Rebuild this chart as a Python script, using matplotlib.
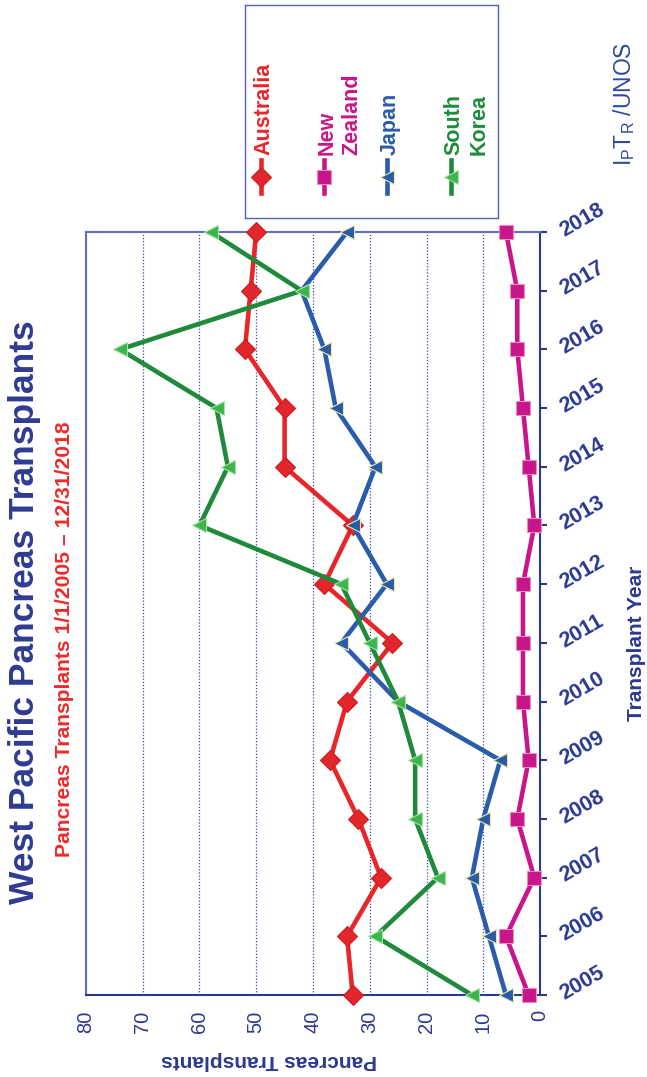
import matplotlib
matplotlib.use("Agg")
import matplotlib.pyplot as plt

plt.rcParams["font.family"] = ["Liberation Sans", "DejaVu Sans"]

years = list(range(2005, 2019))
australia = [33, 34, 28, 32, 37, 34, 26, 38, 33, 45, 45, 52, 51, 50]
new_zealand = [2, 6, 1, 4, 2, 3, 3, 3, 1, 2, 3, 4, 4, 6]
japan = [6, 9, 12, 10, 7, 25, 35, 27, 33, 29, 36, 38, 42, 34]
south_korea = [12, 29, 18, 22, 22, 25, 30, 35, 60, 55, 57, 74, 42, 58]

value_ticks = list(range(0, 81, 10))
legend_lines = [["Australia"], ["New", "Zealand"], ["Japan"], ["South", "Korea"]]

NAVY = "#2b3990"
series = [
    # values, line colour, marker, face, edge, text colour
    (australia, "#e8262a", "D", "#e3262b", "#c81e22", "#e8262a"),
    (new_zealand, "#c8168a", "s", "#c8168a", "#e88cc0", "#c8168a"),
    (japan, "#2a5caa", "<", "#2a5aa8", "#e8e8a0", "#2a5caa"),
    (south_korea, "#1f8a3c", "<", "#3cb54a", "#a8e0a8", "#1f8a3c"),
]

fig = plt.figure(figsize=(6.47, 10.77), dpi=100)
ax = fig.add_axes([86 / 647, 82 / 1077, 454 / 647, 763 / 1077])

for vals, lc, mk, mfc, mec, _ in series:
    ax.plot(vals, years, color=lc, lw=3.3, marker=mk, ms=10.5,
            mfc=mfc, mec=mec, mew=0.8, clip_on=False, zorder=3)

ax.set_xlim(80, 0)
ax.set_ylim(2005, 2018)

# value axis (bottom), labels turned on their side
ax.set_xticks(value_ticks)
ax.tick_params(axis="x", length=0, pad=11, labelrotation=90,
               labelsize=14.5, labelcolor=NAVY)
ax.grid(axis="x", color="#3a4aa8", linestyle=(0, (1, 1.5)), lw=0.9)

# year axis on the right, slanted labels
ax.yaxis.tick_right()
ax.set_yticks(years, labels=[str(y) for y in years], rotation=30,
              rotation_mode="anchor", ha="left", va="center",
              fontweight="bold")
ax.tick_params(axis="y", direction="out", length=5, width=1.5, color=NAVY,
               pad=10.5, labelsize=15.5, labelcolor=NAVY)

for side in ("left", "top"):
    ax.spines[side].set_color("#6070c0")
    ax.spines[side].set_linewidth(1.5)
for side in ("right", "bottom"):
    ax.spines[side].set_color(NAVY)
    ax.spines[side].set_linewidth(1.5)

ax.set_xlabel("Pancreas Transplants", rotation=180, fontsize=15,
              fontweight="bold", color=NAVY, va="center", ha="center")
ax.xaxis.set_label_coords(0.403, -0.0865)
ax.yaxis.set_label_position("right")
ax.set_ylabel("Transplant Year", rotation=90, fontsize=15,
              fontweight="bold", color=NAVY, va="center", ha="center")
ax.yaxis.set_label_coords(1.2115, 0.461)

# titles
fig.text(25 / 647, 1 - 612 / 1077, "West Pacific Pancreas Transplants",
         rotation=90, ha="center", va="center", fontsize=25.5,
         fontweight="bold", color="#2e3b91")
fig.text(64.5 / 647, 1 - 639 / 1077,
         "Pancreas Transplants 1/1/2005 \u2013 12/31/2018",
         rotation=90, ha="center", va="center", fontsize=15.2,
         fontweight="bold", color="#ee2a2a")
fig.text(624 / 647, 1 - 104 / 1077, r"$\mathregular{I_PT_R}$ /UNOS",
         rotation=90, ha="center", va="center", fontsize=16.5,
         color="#2d4a9c")

# legend box drawn in pixel-like coordinates
lax = fig.add_axes([245 / 647, 1 - 218 / 1077, 253 / 647, 213 / 1077])
lax.set_xlim(245, 498)
lax.set_ylim(218, 5)
lax.set_xticks([])
lax.set_yticks([])
for sp in lax.spines.values():
    sp.set_color("#5565b5")
    sp.set_linewidth(1)

handle_x = [261, 324, 387, 451]
for hx, lines, (_, lc, mk, mfc, mec, tc) in zip(handle_x, legend_lines, series):
    lax.plot([hx, hx], [160, 193], color=lc, lw=3.3)
    lax.plot([hx], [176.5], marker=mk, ms=10.5, mfc=mfc, mec=mec, mew=0.8,
             color=lc)
    for i, line in enumerate(lines):
        lax.text(hx + 3 + 25 * i, 155, line, rotation=90, ha="center",
                 va="bottom", fontsize=15.5, fontweight="bold", color=tc)

fig.savefig("out.png", dpi=100)
